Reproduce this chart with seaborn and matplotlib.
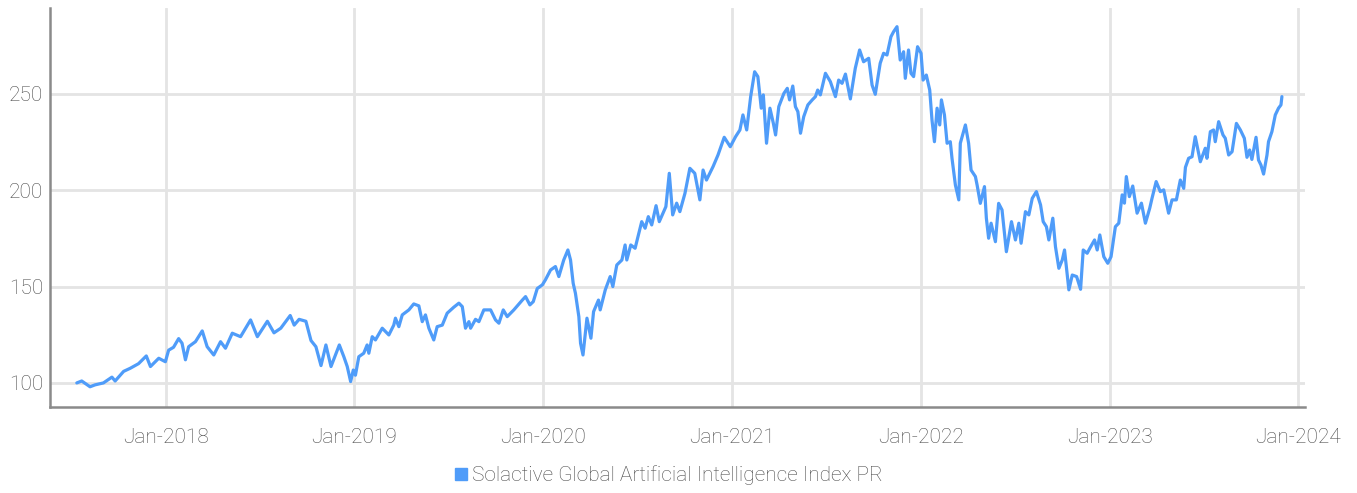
import pandas as pd
import matplotlib
matplotlib.use('Agg')
import matplotlib.pyplot as plt
import matplotlib.dates as mdates
from matplotlib.lines import Line2D
import seaborn as sns

# index level, time as decimal years
t_2017_2018 = [2017.528, 2017.554, 2017.598, 2017.625, 2017.669, 2017.714,
               2017.731, 2017.776, 2017.811, 2017.855, 2017.896, 2017.918,
               2017.962, 2017.997, 2018.015, 2018.041, 2018.068, 2018.086,
               2018.104, 2018.121, 2018.157, 2018.193, 2018.219, 2018.254,
               2018.290, 2018.316, 2018.352, 2018.396, 2018.449, 2018.485,
               2018.538, 2018.573, 2018.609, 2018.659, 2018.680, 2018.706,
               2018.742, 2018.769, 2018.795, 2018.822, 2018.848, 2018.875,
               2018.919]
v_2017_2018 = [100.0, 101.0, 98.0, 99.0, 100.0, 103.0,
               101.0, 106.0, 107.6, 110.0, 114.0, 108.5,
               112.8, 111.0, 117.0, 118.5, 123.0, 120.6,
               112.0, 118.8, 121.4, 127.0, 118.8, 114.5,
               121.4, 118.0, 125.8, 124.0, 132.7, 124.0,
               132.0, 126.0, 128.4, 135.0, 130.0, 133.0,
               132.0, 122.0, 118.8, 109.0, 119.7, 108.5,
               119.7]

t_2019 = [2018.943, 2018.961, 2018.979, 2018.993, 2019.005, 2019.023,
          2019.049, 2019.067, 2019.076, 2019.094, 2019.111, 2019.147,
          2019.182, 2019.208, 2019.217, 2019.235, 2019.253, 2019.288,
          2019.314, 2019.341, 2019.359, 2019.376, 2019.394, 2019.420,
          2019.438, 2019.465, 2019.491, 2019.526, 2019.553, 2019.571,
          2019.588, 2019.606, 2019.615, 2019.641, 2019.659, 2019.685,
          2019.721, 2019.747, 2019.765, 2019.788, 2019.809, 2019.844,
          2019.889, 2019.906, 2019.929, 2019.947, 2019.968, 2019.995]
v_2019 = [113.6, 108.5, 100.7, 106.7, 104.0, 113.6,
          115.4, 119.7, 115.4, 124.0, 122.3, 128.4,
          124.9, 130.0, 133.6, 129.2, 135.3, 137.9,
          141.0, 140.0, 131.8, 135.3, 128.4, 122.3,
          129.2, 130.0, 136.2, 139.3, 141.4, 139.6,
          128.4, 131.8, 128.4, 133.0, 131.8, 137.9,
          137.9, 132.7, 131.0, 137.9, 134.4, 137.9,
          143.0, 144.8, 140.5, 142.2, 149.0, 150.9]

t_2020 = [2020.012, 2020.039, 2020.065, 2020.083, 2020.109, 2020.131,
          2020.145, 2020.159, 2020.171, 2020.189, 2020.198, 2020.211,
          2020.232, 2020.253, 2020.267, 2020.293, 2020.302, 2020.329,
          2020.355, 2020.369, 2020.390, 2020.417, 2020.434, 2020.443,
          2020.464, 2020.487, 2020.522, 2020.540, 2020.557, 2020.575,
          2020.598, 2020.615, 2020.650, 2020.668, 2020.686, 2020.707,
          2020.724, 2020.751, 2020.777, 2020.803, 2020.830, 2020.847,
          2020.865, 2020.900, 2020.926]
v_2020 = [153.5, 158.6, 160.4, 155.2, 163.8, 169.0,
          163.8, 151.7, 146.5, 134.4, 120.6, 114.5,
          133.6, 123.2, 137.0, 143.0, 137.9, 148.3,
          155.2, 150.0, 161.2, 163.8, 171.6, 163.8,
          171.6, 169.9, 183.7, 180.3, 186.3, 182.0,
          192.0, 183.7, 191.5, 208.8, 187.2, 193.3,
          188.9, 198.4, 211.4, 208.8, 195.0, 210.5,
          205.3, 212.3, 218.3]

t_2021 = [2020.959, 2020.991, 2021.017, 2021.040, 2021.056, 2021.076,
          2021.097, 2021.118, 2021.135, 2021.153, 2021.164, 2021.181,
          2021.199, 2021.217, 2021.229, 2021.246, 2021.273, 2021.291,
          2021.303, 2021.320, 2021.334, 2021.347, 2021.361, 2021.378,
          2021.400, 2021.423, 2021.440, 2021.452, 2021.466, 2021.493,
          2021.519, 2021.546, 2021.563, 2021.581, 2021.599, 2021.625,
          2021.651, 2021.674, 2021.695, 2021.722, 2021.740, 2021.757,
          2021.783, 2021.801, 2021.819, 2021.840, 2021.854, 2021.872,
          2021.889, 2021.907, 2021.916, 2021.933, 2021.946, 2021.960,
          2021.981, 2022.000]
v_2021 = [227.5, 222.6, 227.8, 231.3, 239.1, 231.3,
          248.6, 261.5, 259.0, 242.6, 249.5, 224.4,
          242.6, 234.8, 228.7, 243.4, 250.3, 252.9,
          246.9, 254.1, 243.4, 240.8, 229.6, 238.2,
          244.3, 246.9, 248.6, 252.0, 249.5, 260.7,
          256.4, 248.6, 257.2, 255.5, 260.3, 247.4,
          263.3, 272.8, 266.7, 268.5, 254.6, 249.8,
          265.9, 271.1, 270.2, 279.7, 282.3, 284.9,
          267.6, 271.9, 258.1, 272.8, 260.7, 259.0,
          274.5, 271.1]

t_2022 = [2022.011, 2022.028, 2022.046, 2022.058, 2022.071, 2022.085,
          2022.099, 2022.108, 2022.124, 2022.138, 2022.155, 2022.164,
          2022.182, 2022.200, 2022.208, 2022.235, 2022.252, 2022.265,
          2022.288, 2022.297, 2022.314, 2022.336, 2022.346, 2022.358,
          2022.371, 2022.394, 2022.411, 2022.429, 2022.452, 2022.479,
          2022.500, 2022.518, 2022.530, 2022.553, 2022.571, 2022.589,
          2022.611, 2022.633, 2022.647, 2022.664, 2022.677, 2022.698,
          2022.712, 2022.730, 2022.748, 2022.760, 2022.783, 2022.801,
          2022.824, 2022.845, 2022.859, 2022.880, 2022.894, 2022.919,
          2022.933, 2022.947, 2022.968, 2022.989]
v_2022 = [257.2, 259.8, 252.0, 236.5, 225.2, 242.6,
          233.9, 246.9, 239.1, 224.4, 225.2, 216.6,
          202.7, 195.0, 224.4, 233.9, 224.4, 210.5,
          207.1, 202.7, 193.2, 201.9, 185.5, 175.1,
          182.9, 173.3, 193.2, 189.8, 168.1, 183.7,
          174.2, 182.9, 172.5, 188.9, 187.2, 195.8,
          199.3, 192.4, 183.7, 181.1, 174.2, 185.5,
          170.7, 159.5, 163.8, 169.0, 148.3, 156.0,
          155.2, 148.6, 169.0, 167.3, 169.9, 174.2,
          169.0, 176.8, 165.5, 162.1]

t_2023 = [2023.007, 2023.030, 2023.048, 2023.066, 2023.078, 2023.088,
          2023.104, 2023.122, 2023.145, 2023.168, 2023.189, 2023.212,
          2023.224, 2023.246, 2023.268, 2023.286, 2023.312, 2023.330,
          2023.353, 2023.374, 2023.392, 2023.401, 2023.418, 2023.436,
          2023.453, 2023.480, 2023.506, 2023.515, 2023.533, 2023.550,
          2023.559, 2023.577, 2023.600, 2023.612, 2023.630, 2023.648,
          2023.671, 2023.692, 2023.713, 2023.727, 2023.741, 2023.753,
          2023.775, 2023.788, 2023.801, 2023.815, 2023.833, 2023.841,
          2023.859, 2023.877, 2023.894, 2023.907, 2023.912]
v_2023 = [165.5, 181.1, 182.9, 197.6, 193.3, 207.1,
          196.7, 202.2, 188.1, 193.3, 182.9, 190.7,
          195.8, 204.5, 199.3, 200.2, 188.1, 195.0,
          195.0, 205.3, 201.0, 211.9, 216.6, 217.4,
          227.8, 214.8, 221.8, 216.6, 230.4, 231.3,
          225.2, 235.6, 228.7, 227.0, 218.3, 220.0,
          234.7, 231.3, 227.0, 217.1, 220.9, 216.0,
          227.5, 215.7, 213.1, 208.4, 218.3, 225.2,
          230.4, 239.1, 242.6, 244.3, 248.6]

series_name = 'Solactive Global Artificial Intelligence Index PR'
y_ticks = [100, 150, 200, 250]
x_ticks = ['2018-01-01', '2019-01-01', '2020-01-01', '2021-01-01',
           '2022-01-01', '2023-01-01', '2024-01-01']

LINE_COLOR = '#4f9cf9'
TEXT_COLOR = '#4a4a4a'


def to_date(y):
    '''decimal year -> timestamp'''
    year = int(y)
    return pd.Timestamp(year, 1, 1) + pd.Timedelta(days=(y - year) * 365.25)


def main():
    t = (t_2017_2018 + t_2019 + t_2020 + t_2021 + t_2022 + t_2023)
    v = (v_2017_2018 + v_2019 + v_2020 + v_2021 + v_2022 + v_2023)
    df = pd.DataFrame({'date': [to_date(x) for x in t], 'value': v})

    sns.set_style('white')
    plt.rcParams['font.family'] = ['Roboto', 'DejaVu Sans']
    plt.rcParams['font.weight'] = 'light'

    fig = plt.figure(figsize=(13.57, 4.93), dpi=100)
    ax = fig.add_axes([50 / 1357, 1 - 407 / 493, 1255 / 1357, 399 / 493])

    sns.lineplot(data=df, x='date', y='value', ax=ax, color=LINE_COLOR,
                 linewidth=2.3, legend=False)

    ax.set_xlim(to_date(2017.386), to_date(2024.035))
    ax.set_ylim(87.5, 294.6)
    ax.set_yticks(y_ticks)
    ax.set_xticks(pd.to_datetime(x_ticks))
    ax.xaxis.set_major_formatter(mdates.DateFormatter('%b-%Y'))

    ax.grid(True, color='#e4e4e4', linewidth=2.0)
    ax.set_axisbelow(True)
    ax.set_xlabel('')
    ax.set_ylabel('')
    ax.tick_params(axis='both', length=0, labelsize=15,
                   labelcolor=TEXT_COLOR)
    ax.tick_params(axis='x', pad=15)
    ax.tick_params(axis='y', pad=5)

    for side in ['top', 'right']:
        ax.spines[side].set_visible(False)
    for side in ['left', 'bottom']:
        ax.spines[side].set_color('#8a8a8a')
        ax.spines[side].set_linewidth(1.8)

    handle = Line2D([], [], marker='s', linestyle='', color=LINE_COLOR,
                    markersize=9)
    fig.legend([handle], [series_name], loc='center',
               bbox_to_anchor=(0.492, 0.036), frameon=False, fontsize=15,
               labelcolor=TEXT_COLOR, handletextpad=0.1, handlelength=0.8)

    fig.savefig('out.png', dpi=100)


if __name__ == '__main__':
    main()
